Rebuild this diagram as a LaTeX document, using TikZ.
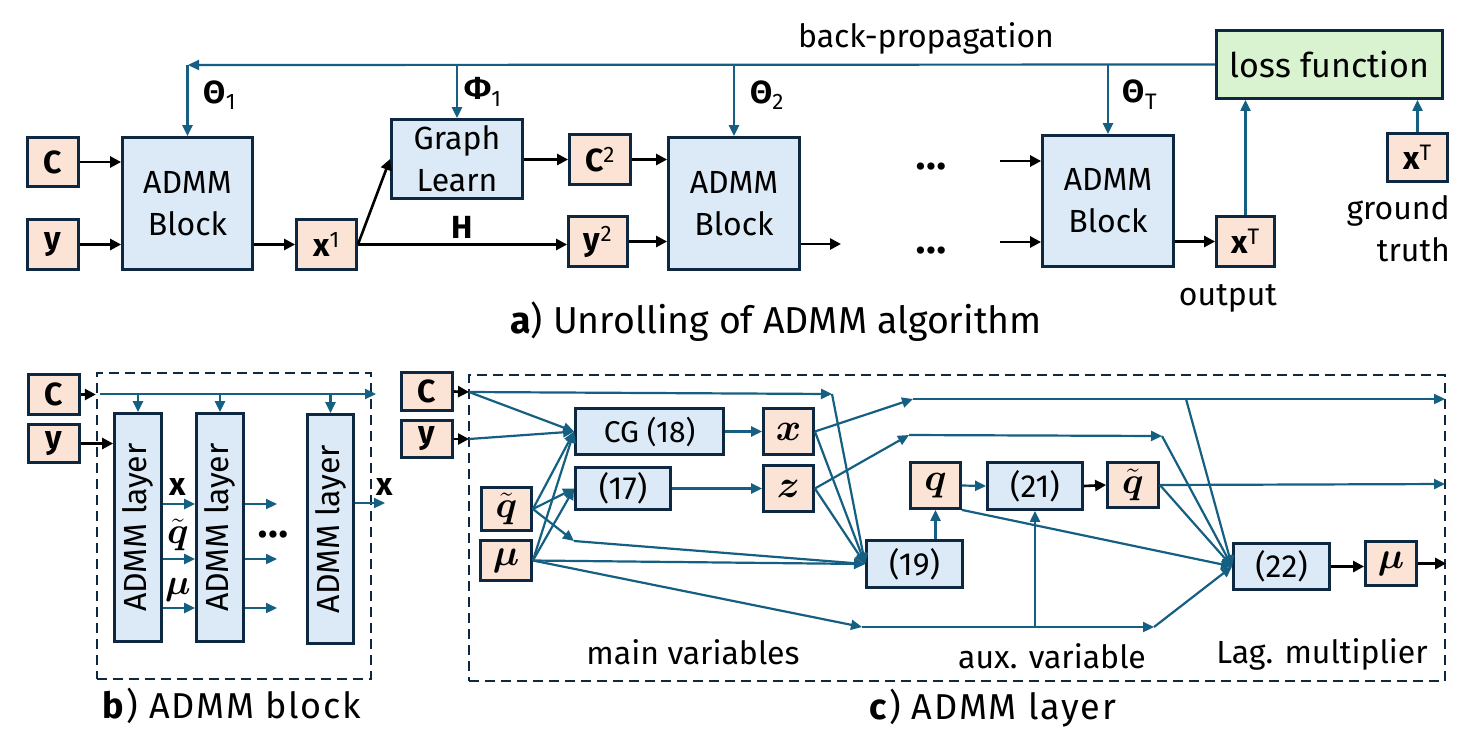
\documentclass[tikz,border=0pt]{standalone}
\usepackage{amsmath}
\usepackage{graphicx}
\usepackage{fontspec}
\setmainfont{Fira Sans}
\newfontfamily\capfont[LetterSpace=5]{Fira Sans}
\usetikzlibrary{arrows.meta}
\newcommand\mbig[2]{\scalebox{#1}{\fontsize{24.88}{30}\selectfont$#2$}}
\definecolor{navy}{HTML}{0E2841}
\definecolor{bblue}{HTML}{DCEAF7}
\definecolor{orng}{HTML}{FBE3D6}
\definecolor{grn}{HTML}{D9F2D0}
\definecolor{ablue}{HTML}{156082}
\tikzset{
 bx/.style={draw=navy, line width=2.8pt, inner sep=0pt, align=center, font=\fontsize{32}{42}\selectfont},
 blk/.style={bx, fill=bblue},
 var/.style={bx, fill=orng},
 dbox/.style={draw=navy, line width=2.4pt, dash pattern=on 10pt off 6pt, inner sep=0pt},
 barr/.style={draw=black, line width=2.6pt, -{Triangle[length=11pt,width=11pt]}},
 aarr/.style={draw=ablue, line width=2.2pt, -{Triangle[length=11pt,width=10pt]}},
 lbl/.style={inner sep=0pt, align=center, font=\fontsize{32}{42}\selectfont},
 captxt/.style={inner sep=0pt, font=\capfont\fontsize{36}{42}\selectfont},
}
\begin{document}
\begin{tikzpicture}[x=1pt,y=-1pt]
\fill[white] (0,0) rectangle (1469,732);
% ---------------- panel a ----------------
\node[var, minimum width=51pt, minimum height=49pt] (cA) at (53,162) {\bfseries C};
\node[var, minimum width=51pt, minimum height=50pt] (yA) at (53,244.5) {\bfseries y};
\node[blk, minimum width=130pt, minimum height=132pt] (bk1) at (187.5,203.5) {ADMM\\Block};
\node[var, minimum width=60pt, minimum height=50pt] (x1) at (326.5,244.5) {{\bfseries x}\textsuperscript{1}};
\node[blk, minimum width=131pt, minimum height=79pt] (gl) at (457,159) {Graph\\Learn};
\node[var, minimum width=61pt, minimum height=50pt] (c2) at (600,159.5) {{\bfseries C}\textsuperscript{2}};
\node[var, minimum width=59pt, minimum height=50pt] (y2) at (598,241.5) {{\bfseries y}\textsuperscript{2}};
\node[blk, minimum width=131pt, minimum height=132pt] (bk2) at (734,203.5) {ADMM\\Block};
\node[blk, minimum width=131pt, minimum height=131pt] (bkT) at (1108,201) {ADMM\\Block};
\node[var, minimum width=58pt, minimum height=50pt] (xT) at (1245.5,241.5) {{\bfseries x}\textsuperscript{T}};
\node[bx, fill=grn, minimum width=226pt, minimum height=68pt, font=\fontsize{34}{40}\selectfont] (loss) at (1329.5,64.5) {loss function};
\node[var, minimum width=60pt, minimum height=48pt] (gt) at (1417.5,157.5) {{\bfseries x}\textsuperscript{T}};

\draw[barr] (cA.east) -- (cA.east -| bk1.west);
\draw[barr] (yA.east) -- (yA.east -| bk1.west);
\draw[barr] (bk1.east |- x1) -- (x1.west);
\draw[barr] (x1.east) -- (gl.west);
\draw[barr] (x1.east) -- node[lbl, above=5pt] (hl) {\bfseries H} (x1.east -| y2.west);
\draw[barr] (gl.east |- c2) -- (c2.west);
\draw[barr] (c2.east) -- (c2.east -| bk2.west);
\draw[barr] (y2.east) -- (y2.east -| bk2.west);
\coordinate (o2) at (841,244);
\draw[barr] (bk2.east |- o2) -- (o2);
\coordinate (iT1) at (1000,161);
\coordinate (iT2) at (1000,242);
\draw[barr] (iT1) -- (iT1 -| bkT.west);
\draw[barr] (iT2) -- (iT2 -| bkT.west);
\draw[barr] (bkT.east |- xT) -- (xT.west);
\node[lbl] (d1) at (931,170) {\textbullet\textbullet\textbullet};
\node[lbl] (d2) at (931,254) {\textbullet\textbullet\textbullet};

\coordinate (bp) at (188,65);
\draw[aarr] (loss.west) -- (bp);
\draw[aarr] (bk1.north |- bp) -- (bk1.north);
\draw[aarr] (gl.north |- bp) -- (gl.north);
\draw[aarr] (bk2.north |- bp) -- (bk2.north);
\draw[aarr] (bkT.north |- bp) -- (bkT.north);
\draw[aarr] (xT.north) -- (xT.north |- loss.south);
\draw[aarr] (gt.north) -- (gt.north |- loss.south);

\node[lbl] (th1) at (220,95) {{\bfseries Θ}\textsubscript{1}};
\node[lbl] (ph1) at (483,92) {{\bfseries Φ}\textsubscript{1}};
\node[lbl] (th2) at (767,95) {{\bfseries Θ}\textsubscript{2}};
\node[lbl] (thT) at (1140,95) {{\bfseries Θ}\textsubscript{T}};
\node[lbl] (bpl) at (926,38) {back-propagation};
\node[lbl] (outl) at (1228,298) {output};
\node[lbl, align=right, anchor=east] (gtl) at (1450,229) {ground\\truth};
\node[lbl, font=\fontsize{37.5}{42}\selectfont] (capa) at (776,322) {\textbf{a}) Unrolling of ADMM algorithm};

% ---------------- panel b ----------------
\node[dbox, minimum width=274pt, minimum height=306pt] (frameB) at (234,526) {};
\node[var, minimum width=51pt, minimum height=40pt] (cB) at (54,394.5) {\bfseries C};
\node[var, minimum width=51pt, minimum height=38pt] (yB) at (54,443.5) {\bfseries y};
\node[blk, minimum width=47pt, minimum height=228pt] (L1) at (138,527.5) {\rotatebox{90}{ADMM layer}};
\node[blk, minimum width=47pt, minimum height=228pt] (L2) at (220,527.5) {\rotatebox{90}{ADMM layer}};
\node[blk, minimum width=46pt, minimum height=229pt] (L3) at (330.5,529) {\rotatebox{90}{ADMM layer}};
\draw[barr] (cB.east) -- (cB.east -| frameB.west);
\coordinate (cbs) at (100,394);
\coordinate (cbe) at (376,394);
\draw[aarr] (cbs) -- (cbe);
\draw[aarr] (L1.north |- cbs) -- (L1.north);
\draw[aarr] (L2.north |- cbs) -- (L2.north);
\draw[aarr] (L3.north |- cbs) -- (L3.north);
\draw[barr] (yB.east) -- (yB.east -| L1.west);
\coordinate (rx) at (277,504);
\coordinate (rq) at (277,559);
\coordinate (rm) at (277,608);
\draw[aarr] (L1.east |- rx) -- (L2.west |- rx);
\draw[aarr] (L1.east |- rq) -- (L2.west |- rq);
\draw[aarr] (L1.east |- rm) -- (L2.west |- rm);
\draw[aarr] (L2.east |- rx) -- (rx);
\draw[aarr] (L2.east |- rq) -- (rq);
\draw[aarr] (L2.east |- rm) -- (rm);
\coordinate (L3o) at (385,503);
\draw[aarr] (L3.east |- L3o) -- (L3o);
\node[lbl] (lbx) at (178,487) {\bfseries x};
\node[inner sep=0pt] (lbq) at (178,535) {\mbig{1.5}{\tilde{\boldsymbol{q}}}};
\node[inner sep=0pt] (lbm) at (178,590) {\mbig{1.45}{\boldsymbol{\mu}}};
\node[lbl] (lbx2) at (385,487) {\bfseries x};
\node[lbl] (d3) at (273,538) {\textbullet\textbullet\textbullet};
\node[captxt] (capb) at (232,706) {\textbf{b}) ADMM block};

% ---------------- panel c ----------------
\node[dbox, minimum width=976pt, minimum height=306pt] (frameC) at (957,528) {};
\node[var, minimum width=51pt, minimum height=38pt] (cC) at (427,391.5) {\bfseries C};
\node[var, minimum width=51pt, minimum height=37pt] (yC) at (427,439) {\bfseries y};
\node[blk, minimum width=148pt, minimum height=46pt, font=\fontsize{30}{36}\selectfont] (cg) at (649.5,431.5) {CG (18)};
\node[blk, minimum width=95pt, minimum height=42pt] (e17) at (623,488.5) {(17)};
\node[var, minimum width=50pt, minimum height=46pt] (xv) at (788.5,431.5) {\mbig{1.55}{\boldsymbol{x}}};
\node[var, minimum width=50pt, minimum height=46pt] (zv) at (788.5,488.5) {\mbig{1.55}{\boldsymbol{z}}};
\node[var, minimum width=50pt, minimum height=43pt] (qtL) at (506.5,509) {\mbig{1.5}{\tilde{\boldsymbol{q}}}};
\node[var, minimum width=51pt, minimum height=40pt] (muL) at (506,560.5) {\mbig{1.5}{\boldsymbol{\mu}}};
\node[blk, minimum width=96pt, minimum height=47pt] (e19) at (914.5,564) {(19)};
\node[var, minimum width=50pt, minimum height=46pt] (qv) at (935.5,485.5) {\mbig{1.55}{\boldsymbol{q}}};
\node[blk, minimum width=95pt, minimum height=47pt] (e21) at (1035,486) {(21)};
\node[var, minimum width=51pt, minimum height=45pt] (qtR) at (1133,485) {\mbig{1.5}{\tilde{\boldsymbol{q}}}};
\node[blk, minimum width=96pt, minimum height=46pt] (e22) at (1281.5,566.5) {(22)};
\node[var, minimum width=51pt, minimum height=44pt] (muR) at (1391,563.5) {\mbig{1.5}{\boldsymbol{\mu}}};

\coordinate (cin) at (469,392);
\coordinate (yin) at (469,439);
\draw[barr] (cC.east) -- (cin);
\draw[barr] (yC.east) -- (yin);
\coordinate (ca) at (832,394);
\draw[aarr] (cin) -- (ca);
\draw[aarr] (ca) -- (e19.west);
\draw[aarr] (cin) -- (cg.west);
\draw[aarr] (yin) -- (cg.west);
\coordinate (qta) at (574,541);
\draw[aarr] (qtL.east) -- (cg.west);
\draw[aarr] (qtL.east) -- (e17.west);
\draw[aarr] (qtL.east) -- (qta);
\draw[aarr] (qta) -- (e19.west);
\draw[aarr] (muL.east) -- (cg.west);
\draw[aarr] (muL.east) -- (e17.west);
\draw[aarr] (muL.east) -- (e19.west);
\coordinate (mua) at (862,627);
\coordinate (mub) at (1154,627);
\draw[aarr] (muL.east) -- (mua);
\draw[aarr] (mua) -- (mub);
\draw[aarr] (mub) -- (e22.west);
\draw[aarr] (e21.south |- mua) -- (e21.south);
\draw[aarr] (cg.east) -- (xv.west);
\draw[aarr] (e17.east) -- (e17.east -| zv.west);
\coordinate (xa) at (913,399);
\coordinate (xr) at (1445,399);
\draw[aarr] (xv.east) -- (xa);
\draw[aarr] (xa) -- (xr);
\coordinate (x22) at (1186,399);
\draw[aarr] (x22) -- (e22.west);
\draw[aarr] (xv.east) -- (e19.west);
\coordinate (za) at (909,435);
\coordinate (zb) at (1162,436);
\draw[aarr] (zv.east) -- (za);
\draw[aarr] (za) -- (zb);
\draw[aarr] (zb) -- (e22.west);
\draw[aarr] (zv.east) -- (e19.west);
\draw[aarr] (qv.south |- e19.north) -- (qv.south);
\draw[aarr] (qv.east) -- (e21.west);
\draw[barr] (e21.east) -- (qtR.west);
\coordinate (qto) at (1445,484);
\draw[aarr] (qtR.east) -- (qto);
\draw[aarr] (qtR.east) -- (e22.west);
\draw[aarr] (qv.south east) -- (e22.west);
\draw[barr] (e22.east) -- (e22.east -| muR.west);
\draw[barr] (muR.east) -- (muR.east -| frameC.east);

\node[lbl] (mvl) at (693,652) {main variables};
\node[lbl] (avl) at (1052,656) {aux. variable};
\node[lbl] (lml) at (1322,654) {Lag. multiplier};
\node[captxt] (capc) at (993,708) {\textbf{c}) ADMM layer};
\end{tikzpicture}
\end{document}
